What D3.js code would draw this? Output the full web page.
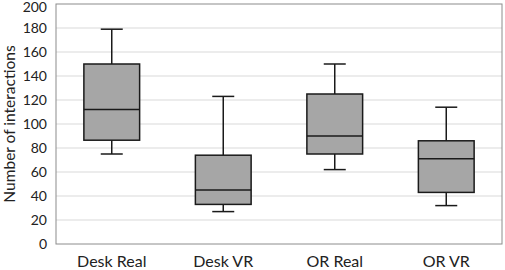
<!DOCTYPE html>
<html><head><meta charset="utf-8">
<script src="https://cdn.jsdelivr.net/npm/d3@7"></script>
<style>body{margin:0;background:#fff;} svg{display:block;}</style>
</head><body>
<svg id="c" width="505" height="270"></svg>
<script>
const categories = ["Desk Real", "Desk VR", "OR Real", "OR VR"];
const whiskerLow = [75, 27, 62, 32];
const q1 = [86.5, 33, 75, 43];
const median = [112, 45, 90, 71];
const q3 = [150, 74, 125, 86];
const whiskerHigh = [179, 123, 150, 114];
const yTicks = [0, 20, 40, 60, 80, 100, 120, 140, 160, 180, 200];
const yTitle = "Number of interactions";

const font = "Lato, 'Open Sans', sans-serif";
const m = {l: 56, r: 3, t: 4, b: 26};
const W = 505, H = 270;
const svg = d3.select("#c");
const x = d3.scaleBand().domain(categories).range([m.l, W - m.r]).paddingInner(0.5).paddingOuter(0.25);
const y = d3.scaleLinear().domain([0, 200]).range([H - m.b, m.t]);

// gridlines
svg.append("g").selectAll("line").data(yTicks.filter(d => d > 0 && d < 200)).join("line")
  .attr("x1", m.l).attr("x2", W - m.r).attr("y1", d => y(d)).attr("y2", d => y(d))
  .attr("stroke", "#d9d9d9").attr("stroke-width", 1);

// frame
svg.append("rect").attr("x", m.l).attr("y", m.t).attr("width", W - m.r - m.l).attr("height", H - m.b - m.t)
  .attr("fill", "none").attr("stroke", "#8c8c8c").attr("stroke-width", 1);

// y axis labels
const yAxis = d3.axisLeft(y).tickValues(yTicks).tickSize(0).tickPadding(9);
const ga = svg.append("g").attr("transform", `translate(${m.l},0)`).call(yAxis);
ga.select(".domain").remove();
ga.selectAll("text").attr("font-family", font).attr("font-size", 14).attr("fill", "#222")
  .attr("dy", d => d === 200 ? "0.52em" : "0.32em");

// x axis labels
const xAxis = d3.axisBottom(x).tickSize(0).tickPadding(12);
const gx = svg.append("g").attr("transform", `translate(0,${H - m.b})`).call(xAxis);
gx.select(".domain").remove();
gx.selectAll("text").attr("font-family", font).attr("font-size", 16).attr("fill", "#222");

// y title
svg.append("text").attr("transform", `translate(15,${(m.t + H - m.b) / 2}) rotate(-90)`)
  .attr("text-anchor", "middle").attr("font-family", font).attr("font-size", 15.5).attr("fill", "#222")
  .text(yTitle);

const data = categories.map((c, i) => ({c, lo: whiskerLow[i], q1: q1[i], med: median[i], q3: q3[i], hi: whiskerHigh[i]}));
const cap = 11;
const g = svg.append("g").attr("stroke", "#1a1a1a").attr("stroke-width", 1.5);
const boxes = g.selectAll("g").data(data).join("g");
boxes.append("line").attr("x1", d => x(d.c) + x.bandwidth()/2).attr("x2", d => x(d.c) + x.bandwidth()/2)
  .attr("y1", d => y(d.hi)).attr("y2", d => y(d.q3));
boxes.append("line").attr("x1", d => x(d.c) + x.bandwidth()/2).attr("x2", d => x(d.c) + x.bandwidth()/2)
  .attr("y1", d => y(d.q1)).attr("y2", d => y(d.lo));
boxes.append("line").attr("x1", d => x(d.c) + x.bandwidth()/2 - cap).attr("x2", d => x(d.c) + x.bandwidth()/2 + cap)
  .attr("y1", d => y(d.hi)).attr("y2", d => y(d.hi));
boxes.append("line").attr("x1", d => x(d.c) + x.bandwidth()/2 - cap).attr("x2", d => x(d.c) + x.bandwidth()/2 + cap)
  .attr("y1", d => y(d.lo)).attr("y2", d => y(d.lo));
boxes.append("rect").attr("x", d => x(d.c)).attr("width", x.bandwidth())
  .attr("y", d => y(d.q3)).attr("height", d => y(d.q1) - y(d.q3)).attr("fill", "#a6a6a6");
boxes.append("line").attr("x1", d => x(d.c)).attr("x2", d => x(d.c) + x.bandwidth())
  .attr("y1", d => y(d.med)).attr("y2", d => y(d.med));
</script>
</body></html>
